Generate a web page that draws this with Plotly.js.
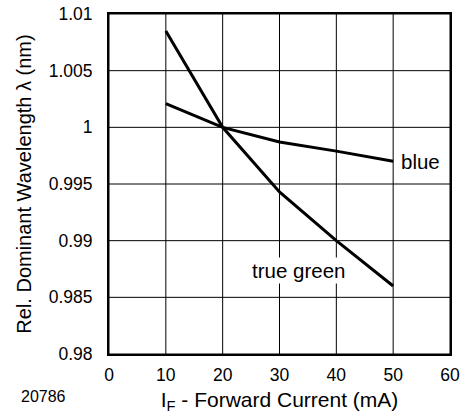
<!DOCTYPE html>
<html>
<head>
<meta charset="utf-8">
<script src="https://cdn.plot.ly/plotly-3.0.1.min.js"></script>
<style>html,body{margin:0;padding:0;background:#fff;}#chart{width:468px;height:415px;}</style>
</head>
<body>
<div id="chart"></div>
<script>
const current = [10, 20, 30, 40, 50];
const trueGreen = [1.0085, 1.0, 0.9943, 0.9900, 0.9860];
const blue = [1.0021, 1.0, 0.9987, 0.9979, 0.9970];
const xTicks = [0, 10, 20, 30, 40, 50, 60];
const yTicks = [0.98, 0.985, 0.99, 0.995, 1, 1.005, 1.01];
const yTickText = ['0.98', '0.985', '0.99', '0.995', '1', '1.005', '1.01'];

const fam = '"Liberation Sans", Arial, sans-serif';
const tickFont = {family: fam, size: 17.5, color: '#000'};
const xTitleFont = {family: fam, size: 21, color: '#000'};
const yTitleFont = {family: fam, size: 20, color: '#000'};
const labelFont = {family: fam, size: 20.5, color: '#000'};

const xMin = xTicks[0], xMax = xTicks[xTicks.length - 1];
const yMin = yTicks[0], yMax = yTicks[yTicks.length - 1];

// grid drawn as a line trace built from the tick arrays (below the data lines)
const gridX = [], gridY = [];
xTicks.forEach(v => { gridX.push(v, v, null); gridY.push(yMin, yMax, null); });
yTicks.forEach(v => { gridX.push(xMin, xMax, null); gridY.push(v, v, null); });

const traces = [
  {x: gridX, y: gridY, mode: 'lines', line: {color: '#000', width: 1}, hoverinfo: 'skip',
   connectgaps: false, name: 'grid'},
  {x: current, y: trueGreen, mode: 'lines', line: {color: '#000', width: 3}, name: 'true green'},
  {x: current, y: blue, mode: 'lines', line: {color: '#000', width: 3}, name: 'blue'}
];

const layout = {
  width: 468, height: 415,
  margin: {l: 109, r: 18, t: 14, b: 61},
  paper_bgcolor: '#fff', plot_bgcolor: '#fff',
  showlegend: false,
  font: tickFont,
  xaxis: {
    range: [xMin, xMax], tickvals: xTicks, ticktext: xTicks.map(String),
    showgrid: false,
    showline: true, linecolor: '#000', linewidth: 2, mirror: true,
    zeroline: false, ticks: 'outside', ticklen: 4, tickcolor: 'rgba(0,0,0,0)',
    tickfont: tickFont, automargin: false,
    title: {text: 'I<sub>F</sub> - Forward Current (mA)', font: xTitleFont, standoff: 8}
  },
  yaxis: {
    range: [yMin, yMax], tickvals: yTicks, ticktext: yTickText,
    showgrid: false,
    showline: true, linecolor: '#000', linewidth: 2, mirror: true,
    zeroline: false, ticks: 'outside', ticklen: 11, tickcolor: 'rgba(0,0,0,0)',
    tickfont: tickFont, automargin: false,
    title: {text: 'Rel. Dominant Wavelength λ (nm)', font: yTitleFont, standoff: 12}
  },
  annotations: [
    {x: 54.8, y: 0.997, xref: 'x', yref: 'y', text: 'blue', showarrow: false, font: labelFont, bgcolor: '#fff'},
    {x: 33.4, y: 0.9874, xref: 'x', yref: 'y', text: 'true green', showarrow: false, font: labelFont, bgcolor: '#fff'},
    {x: -0.1915, y: -0.1256, xref: 'paper', yref: 'paper', xanchor: 'center', yanchor: 'middle',
     text: '20786', showarrow: false, font: {family: fam, size: 16, color: '#000'}}
  ]
};

Plotly.newPlot('chart', traces, layout, {displayModeBar: false, staticPlot: true});
</script>
</body>
</html>
